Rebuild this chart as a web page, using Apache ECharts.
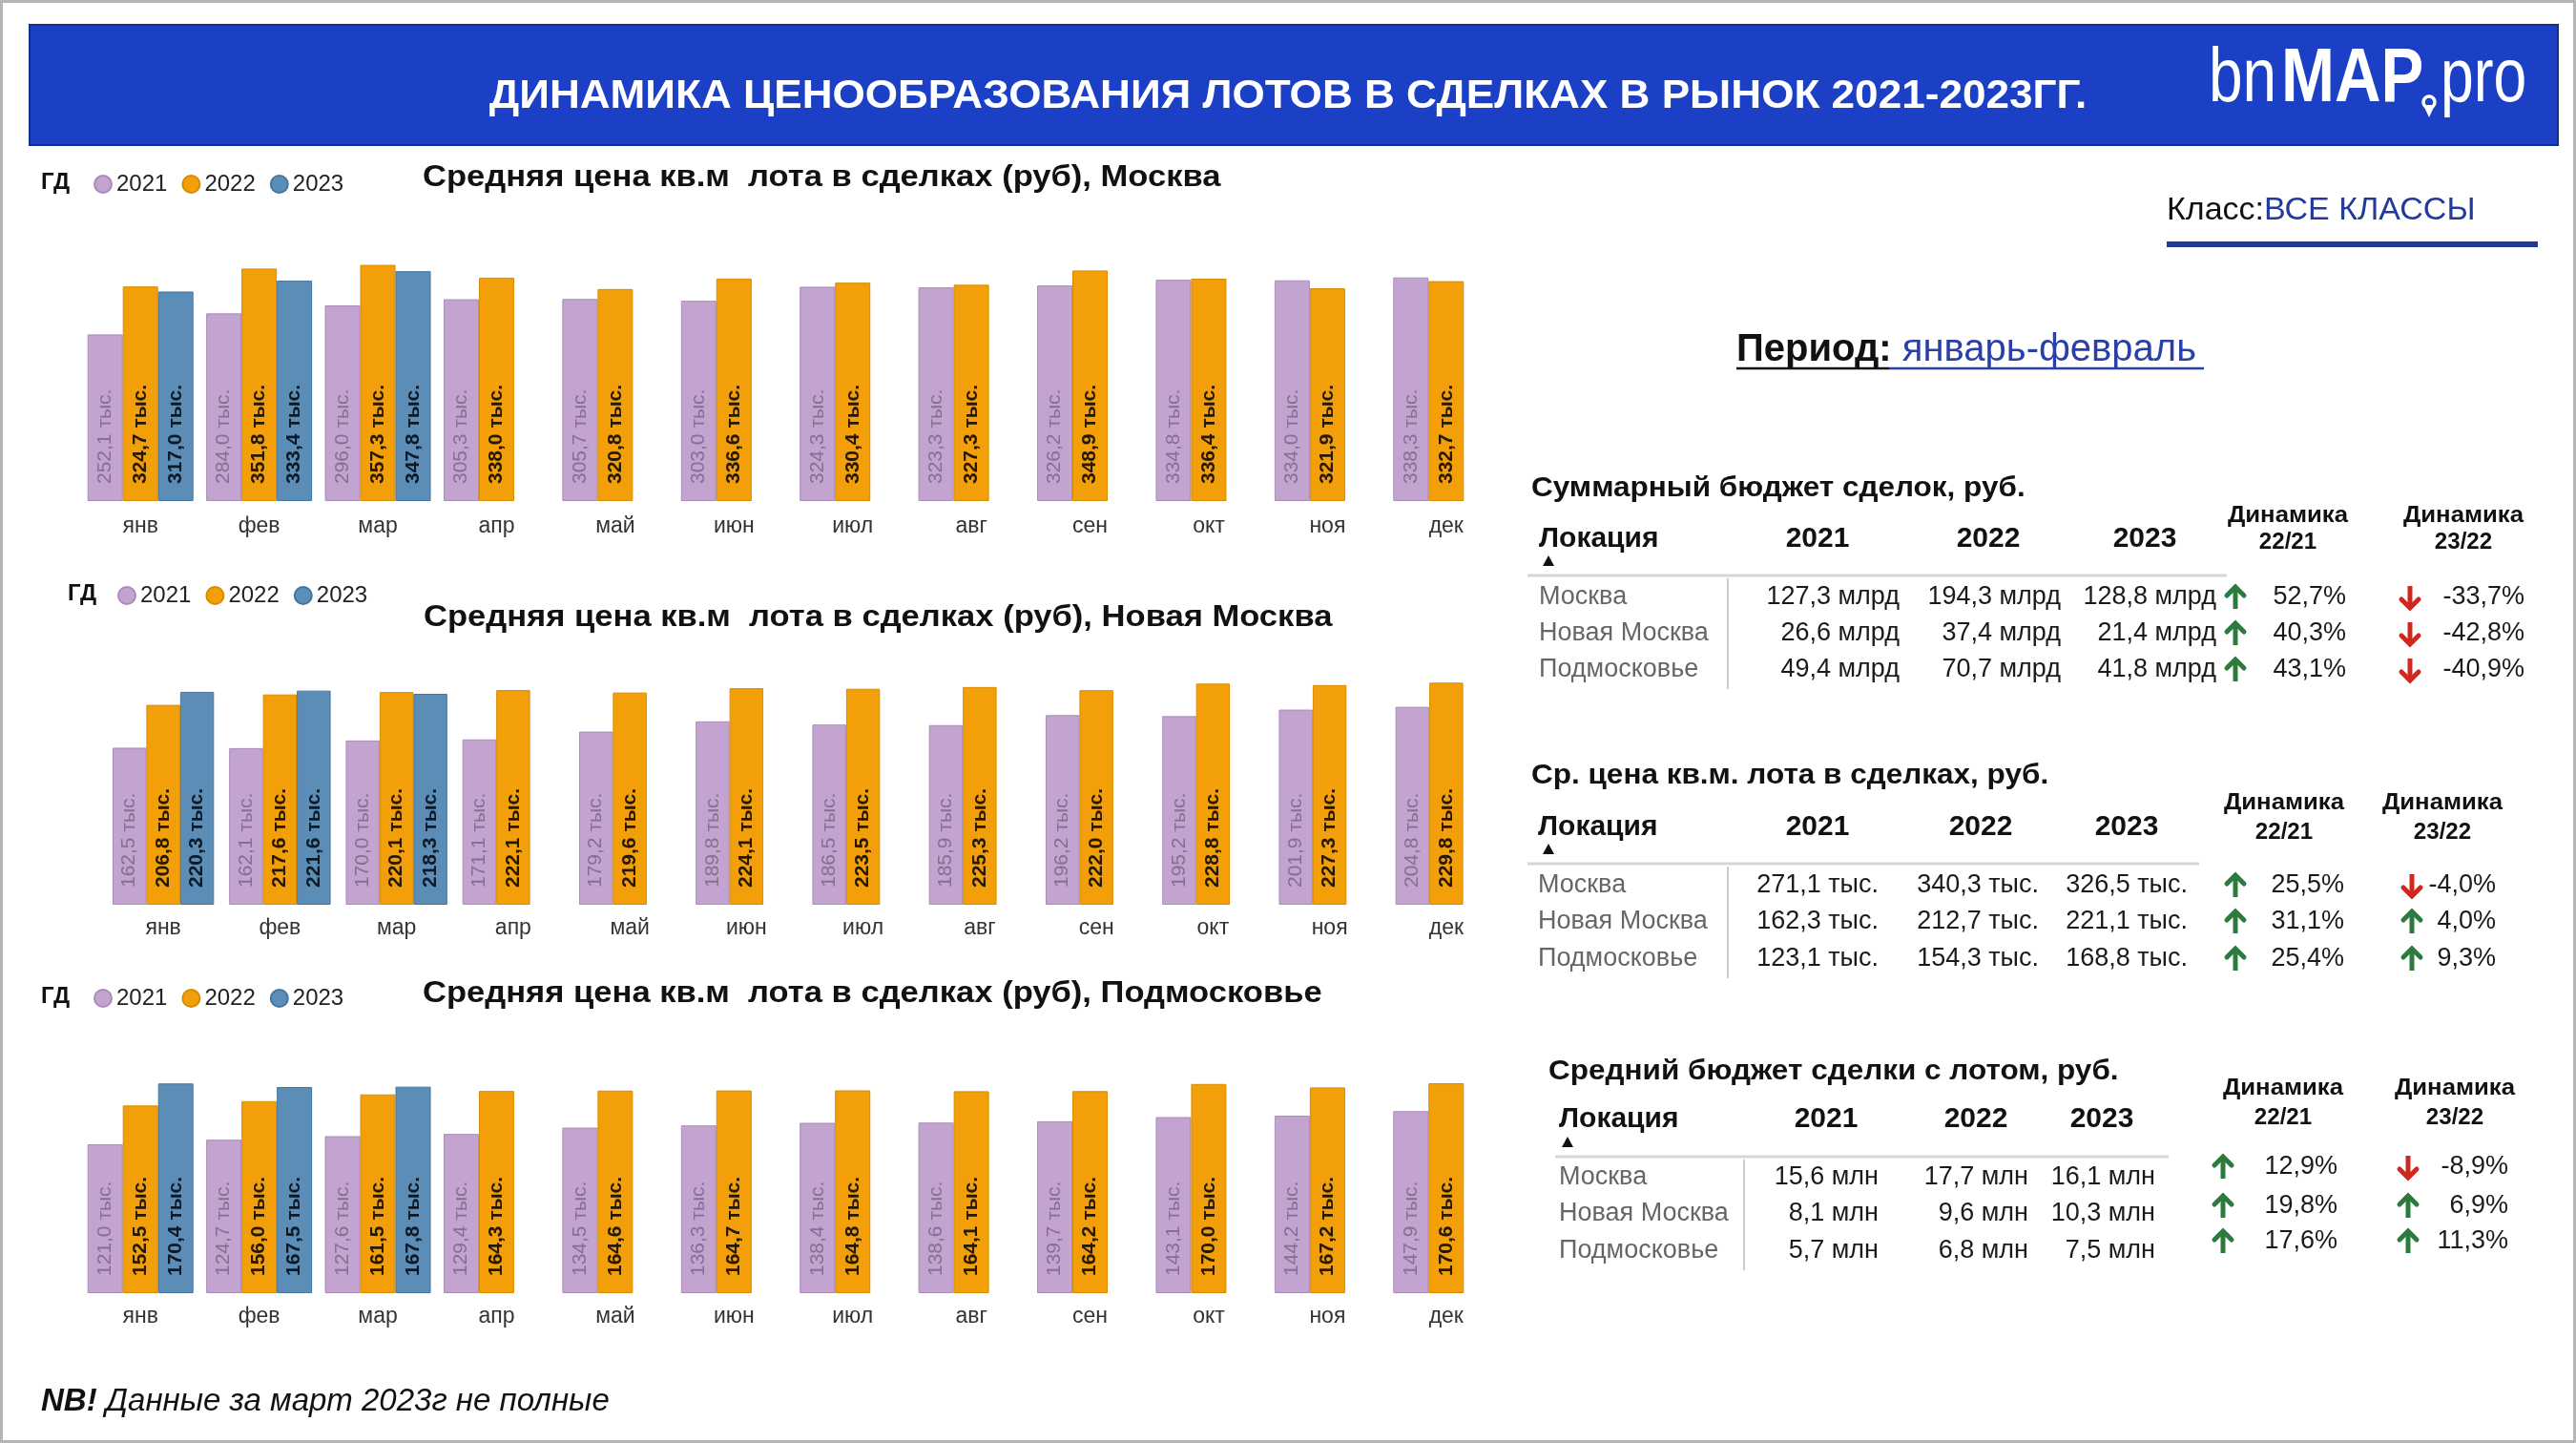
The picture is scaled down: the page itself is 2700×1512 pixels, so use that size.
<!DOCTYPE html>
<html><head><meta charset="utf-8">
<script src="https://cdn.jsdelivr.net/npm/echarts@6.0.0/dist/echarts.min.js"></script>
<style>html,body{margin:0;padding:0;background:#fff}#c{width:2700px;height:1512px}</style>
</head><body><div id="c"></div>
<script>
// ---------- DATA ----------
const months = ['янв','фев','мар','апр','май','июн','июл','авг','сен','окт','ноя','дек'];
const years = ['2021','2022','2023'];
const msk2021 = [252.1,284.0,296.0,305.3,305.7,303.0,324.3,323.3,326.2,334.8,334.0,338.3];
const msk2022 = [324.7,351.8,357.3,338.0,320.8,336.6,330.4,327.3,348.9,336.4,321.9,332.7];
const msk2023 = [317.0,333.4,347.8,null,null,null,null,null,null,null,null,null];
const nm2021 = [162.5,162.1,170.0,171.1,179.2,189.8,186.5,185.9,196.2,195.2,201.9,204.8];
const nm2022 = [206.8,217.6,220.1,222.1,219.6,224.1,223.5,225.3,222.0,228.8,227.3,229.8];
const nm2023 = [220.3,221.6,218.3,null,null,null,null,null,null,null,null,null];
const pd2021 = [121.0,124.7,127.6,129.4,134.5,136.3,138.4,138.6,139.7,143.1,144.2,147.9];
const pd2022 = [152.5,156.0,161.5,164.3,164.6,164.7,164.8,164.1,164.2,170.0,167.2,170.6];
const pd2023 = [170.4,167.5,167.8,null,null,null,null,null,null,null,null,null];

const locations = ['Москва','Новая Москва','Подмосковье'];
const budget2021 = [127.3, 26.6, 49.4];
const budget2022 = [194.3, 37.4, 70.7];
const budget2023 = [128.8, 21.4, 41.8];
const budgetDyn2221 = [52.7, 40.3, 43.1];
const budgetDyn2322 = [-33.7, -42.8, -40.9];
const price2021 = [271.1, 162.3, 123.1];
const price2022 = [340.3, 212.7, 154.3];
const price2023 = [326.5, 221.1, 168.8];
const priceDyn2221 = [25.5, 31.1, 25.4];
const priceDyn2322 = [-4.0, 4.0, 9.3];
const avg2021 = [15.6, 8.1, 5.7];
const avg2022 = [17.7, 9.6, 6.8];
const avg2023 = [16.1, 10.3, 7.5];
const avgDyn2221 = [12.9, 19.8, 17.6];
const avgDyn2322 = [-8.9, 6.9, 11.3];

// ---------- STYLE / LAYOUT ----------
const FF = "'Liberation Sans', Arial, sans-serif";
const C21 = '#C3A3D0', C22 = '#F29F0A', C23 = '#5B8DB6';
const B21 = '#a98bb8', B22 = '#d88b00', B23 = '#45769d';
const fmt = v => v.toFixed(1).replace('.', ',');

const grids = [
  {left:85, top:248, width:1493, height:277, max:400, gap:'10.8%', margin:15},
  {left:110, top:705, width:1467, height:243, max:240, gap:'13%', margin:13},
  {left:85, top:1110, width:1493, height:245, max:190, gap:'10.8%', margin:13}
];
const chartData = [[msk2021,msk2022,msk2023],[nm2021,nm2022,nm2023],[pd2021,pd2022,pd2023]];

const series = [];
chartData.forEach((set, gi) => {
  const cols = [C21, C22, C23], borders = [B21, B22, B23];
  const lcol = ['#85718f', '#241800', '#0d1a26'];
  set.forEach((arr, si) => {
    series.push({
      type:'bar', name: years[si], data: arr, xAxisIndex: gi, yAxisIndex: gi,
      barGap:'0%', barCategoryGap: grids[gi].gap, silent:true, animation:false,
      itemStyle:{color: cols[si], borderColor: borders[si], borderWidth:1},
      label:{show:true, position:'insideBottom', rotate:90, align:'left', verticalAlign:'middle',
        distance:18, fontSize:21, fontFamily:FF, fontWeight: si===0?'normal':'bold', color: lcol[si],
        formatter: p => fmt(p.value) + ' тыс.'}
    });
  });
});

// ---------- GRAPHIC HELPERS ----------
const G = [];
function txt(x, y, text, o) {
  o = o || {};
  G.push({type:'text', x, y, scaleX: o.sx || 1, z: 10,
    style:{text, fill: o.color || '#111', fontSize: o.size || 26, fontWeight: o.weight || 'normal',
      fontStyle: o.style || 'normal', fontFamily: o.family || FF,
      align: o.align || 'left', verticalAlign: 'middle', textAlign: o.align || 'left', textVerticalAlign:'middle',
      rich: o.rich}});
}
function line(x1, y1, x2, y2, color, w) {
  G.push({type:'line', shape:{x1, y1, x2, y2}, style:{stroke: color, lineWidth: w}, z: 5});
}
function arrow(cx, cy, up) {
  const s = up ? 1 : -1;
  const col = up ? '#2d7a3e' : '#d0281e';
  G.push({type:'line', shape:{x1:cx, y1:cy + s*12, x2:cx, y2:cy - s*9}, style:{stroke:col, lineWidth:5}, z:10});
  G.push({type:'polyline', shape:{points:[[cx-9, cy - s*2],[cx, cy - s*11],[cx+9, cy - s*2]]},
    style:{stroke:col, lineWidth:5, fill:null, lineJoin:'miter', lineCap:'round'}, z:10});
}
function tri(cx, cy) {
  G.push({type:'polygon', shape:{points:[[cx, cy-6],[cx+6, cy+5],[cx-6, cy+5]]}, style:{fill:'#111'}, z: 10});
}

// frame and header
G.push({type:'rect', shape:{x:1.5, y:1.5, width:2697, height:1509}, style:{fill:'none', stroke:'#b5b5b5', lineWidth:3}, z:1});
G.push({type:'rect', shape:{x:31, y:26, width:2650, height:126}, style:{fill:'#1b40c6', stroke:'#12308f', lineWidth:2}, z:2});
txt(1350, 101, 'ДИНАМИКА ЦЕНООБРАЗОВАНИЯ ЛОТОВ В СДЕЛКАХ В РЫНОК 2021-2023ГГ.', {size:42, weight:'bold', color:'#ffffff', align:'center', sx:1.05});
// logo
txt(2315, 84, 'bn', {size:80, color:'#fff', sx:0.8});
txt(2391, 84, 'MAP', {size:80, color:'#fff', weight:'bold', sx:0.84});
txt(2558, 84, 'pro', {size:80, color:'#fff', sx:0.78});
G.push({type:'circle', shape:{cx:2546, cy:107, r:6}, style:{fill:'none', stroke:'#fff', lineWidth:3.5}, z:10});
G.push({type:'polygon', shape:{points:[[2540,110],[2552,110],[2546,123]]}, style:{fill:'#fff'}, z:10});

// class & period
txt(2271, 221, '{a|Класс:}{b|ВСЕ КЛАССЫ}', {rich:{a:{fontSize:34, fill:'#111', fontFamily:FF}, b:{fontSize:34, fill:'#23399c', fontFamily:FF}}});
G.push({type:'rect', shape:{x:2271, y:253, width:389, height:6}, style:{fill:'#1f3a8f'}, z:5});
txt(1820, 367, '{a|Период:}{b| январь-февраль}', {rich:{a:{fontSize:40, fontWeight:'bold', fill:'#111', fontFamily:FF}, b:{fontSize:40, fill:'#2a3fa8', fontFamily:FF}}});
line(1820, 386, 1980, 386, '#111', 2.5);
line(1980, 386, 2310, 386, '#2a3fa8', 2.5);

// chart titles and legend labels
const chartTitles = ['Средняя цена кв.м  лота в сделках (руб), Москва', 'Средняя цена кв.м  лота в сделках (руб), Новая Москва', 'Средняя цена кв.м  лота в сделках (руб), Подмосковье'];
const titlePos = [[443,186],[444,647],[443,1041]];
const gdPos = [[43,191],[71,622],[43,1044]];
chartTitles.forEach((t, i) => {
  txt(titlePos[i][0], titlePos[i][1], t, {size:32, weight:'bold', color:'#111', sx:1.08});
  txt(gdPos[i][0], gdPos[i][1], 'ГД', {size:24, weight:'bold', color:'#111'});
});

// note
txt(43, 1469, '{a|NB!}{b| Данные за март 2023г не полные}', {rich:{a:{fontSize:33, fontWeight:'bold', fontStyle:'italic', fill:'#111', fontFamily:FF}, b:{fontSize:33, fontStyle:'italic', fill:'#111', fontFamily:FF}}});

// ---------- TABLES ----------
function table(cfg, v1, v2, v3, d1, d2, unit) {
  txt(cfg.titleX, cfg.titleY, cfg.title, {size:30, weight:'bold', color:'#111', sx:1.05});
  txt(cfg.locX, cfg.headY, 'Локация', {size:30, weight:'bold', color:'#111'});
  tri(cfg.triX, cfg.triY);
  years.forEach((y, i) => txt(cfg.hdr[i], cfg.headY, y, {size:30, weight:'bold', color:'#111', align:'center'}));
  ['22/21','23/22'].forEach((d, i) => {
    txt(cfg.dyn[i], cfg.dynY[0], 'Динамика', {size:23, weight:'bold', color:'#111', align:'center', sx:1.12});
    txt(cfg.dyn[i], cfg.dynY[1], d, {size:23, weight:'bold', color:'#111', align:'center', sx:1.05});
  });
  line(cfg.lineX[0], cfg.lineY, cfg.lineX[1], cfg.lineY, '#d6d6d6', 3);
  line(cfg.vX, cfg.lineY + 3, cfg.vX, cfg.vEnd, '#cccccc', 2);
  locations.forEach((loc, r) => {
    const y = cfg.rowsY[r];
    txt(cfg.locX, y, loc, {size:27, color:'#666'});
    [v1, v2, v3].forEach((arr, c) => txt(cfg.valR[c], y, fmt(arr[r]) + ' ' + unit, {size:27, color:'#1a1a1a', align:'right'}));
    const dy = cfg.dynRowsY ? cfg.dynRowsY[r] : y;
    arrow(cfg.a1, dy, d1[r] >= 0);
    txt(cfg.p1, dy, fmt(d1[r]) + '%', {size:27, color:'#1a1a1a', align:'right'});
    arrow(cfg.a2, dy, d2[r] >= 0);
    txt(cfg.p2, dy, fmt(d2[r]) + '%', {size:27, color:'#1a1a1a', align:'right'});
  });
}
table({title:'Суммарный бюджет сделок, руб.', titleX:1605, titleY:512, locX:1613, headY:565, triX:1623, triY:588,
  hdr:[1905,2084,2248], dyn:[2398,2582], dynY:[541,569], lineY:603, lineX:[1601,2334], vX:1811, vEnd:722,
  rowsY:[626,664,702], valR:[1991,2160,2323], a1:2343, p1:2459, a2:2526, p2:2646},
  budget2021, budget2022, budget2023, budgetDyn2221, budgetDyn2322, 'млрд');
table({title:'Ср. цена кв.м. лота в сделках, руб.', titleX:1605, titleY:813, locX:1612, headY:867, triX:1623, triY:890,
  hdr:[1905,2076,2229], dyn:[2394,2560], dynY:[842,873], lineY:905, lineX:[1601,2305], vX:1811, vEnd:1025,
  rowsY:[928,966,1005], valR:[1969,2137,2293], a1:2343, p1:2457, a2:2528, p2:2616},
  price2021, price2022, price2023, priceDyn2221, priceDyn2322, 'тыс.');
table({title:'Средний бюджет сделки с лотом, руб.', titleX:1623, titleY:1123, locX:1634, headY:1173, triX:1643, triY:1197,
  hdr:[1914,2071,2203], dyn:[2393,2573], dynY:[1141,1172], lineY:1212, lineX:[1630,2273], vX:1828, vEnd:1331,
  rowsY:[1234,1272,1311], dynRowsY:[1223,1264,1301], valR:[1969,2126,2259], a1:2330, p1:2450, a2:2524, p2:2629},
  avg2021, avg2022, avg2023, avgDyn2221, avgDyn2322, 'млн');

// ---------- CHART ----------
const chart = echarts.init(document.getElementById('c'), null, {renderer:'canvas'});
const legendTops = [[93,176],[118,607],[93,1029]];
chart.setOption({
  animation:false,
  backgroundColor:'#ffffff',
  textStyle:{fontFamily:FF},
  grid: grids.map(g => ({left:g.left, top:g.top, width:g.width, height:g.height, containLabel:false})),
  xAxis: grids.map((g, i) => ({type:'category', gridIndex:i, data: months,
    axisLine:{show:false}, axisTick:{show:false}, splitLine:{show:false},
    axisLabel:{fontSize:23, color:'#333', margin:g.margin, fontFamily:FF}})),
  yAxis: grids.map((g, i) => ({type:'value', gridIndex:i, min:0, max:g.max, show:false, splitLine:{show:false}})),
  legend: legendTops.map(p => ({data: years, left:p[0], top:p[1], icon:'circle', itemWidth:18, itemHeight:18,
    itemGap:15, selectedMode:false, textStyle:{fontSize:24, color:'#222', fontFamily:FF}})),
  series: series,
  graphic: {elements: G}
});
</script>
</body></html>
